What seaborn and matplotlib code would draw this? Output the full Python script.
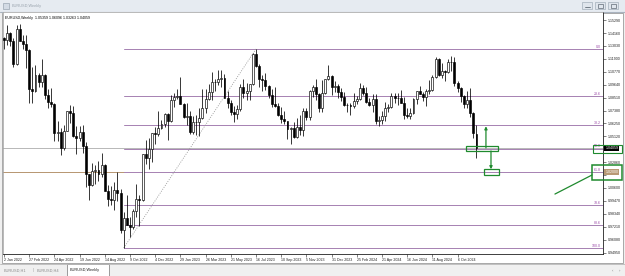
import matplotlib
matplotlib.use("Agg")
import matplotlib.pyplot as plt
import matplotlib.transforms as mtransforms
from matplotlib.patches import Rectangle
import numpy as np
import pandas as pd
import seaborn as sns

# ---------------- data ----------------
opens = [1.1370, 1.1359, 1.1412, 1.1342, 1.1145, 1.1452, 1.1349, 1.1320, 1.1270, 1.0930,
         1.0911, 1.1051, 1.0983, 1.1046, 1.0876, 1.0808, 1.0795, 1.0545, 1.0550, 1.0410,
         1.0560, 1.0733, 1.0719, 1.0518, 1.0495, 1.0553, 1.0427, 1.0183, 1.0082, 1.0212,
         1.0220, 1.0180, 1.0258, 1.0037, 0.9964, 0.9955, 1.0040, 1.0015, 0.9690, 0.9800,
         0.9740, 0.9722, 0.9860, 0.9965, 0.9958, 1.0354, 1.0325, 1.0397, 1.0537, 1.0530,
         1.0585, 1.0620, 1.0705, 1.0645, 1.0830, 1.0855, 1.0868, 1.0795, 1.0678, 1.0694,
         1.0546, 1.0634, 1.0640, 1.0670, 1.0760, 1.0840, 1.0900, 1.0990, 1.0988, 1.1015,
         1.1020, 1.0850, 1.0805, 1.0723, 1.0710, 1.0750, 1.0940, 1.0895, 1.0910, 1.0967,
         1.1228, 1.1125, 1.1017, 1.1005, 1.0948, 1.0870, 1.0795, 1.0775, 1.0700, 1.0660,
         1.0645, 1.0573, 1.0588, 1.0510, 1.0595, 1.0565, 1.0730, 1.0685, 1.0912, 1.0940,
         1.0883, 1.0762, 1.0895, 1.1010, 1.1038, 1.0940, 1.0950, 1.0897, 1.0852, 1.0788,
         1.0784, 1.0777, 1.0820, 1.0838, 1.0938, 1.0890, 1.0808, 1.0790, 1.0836, 1.0642,
         1.0656, 1.0693, 1.0760, 1.0770, 1.0868, 1.0847, 1.0848, 1.0801, 1.0703, 1.0692,
         1.0713, 1.0840, 1.0907, 1.0884, 1.0856, 1.0912, 1.0916, 1.1028, 1.1192, 1.1048,
         1.1085, 1.1075, 1.1163, 1.1164, 1.0975, 1.0936, 1.0866, 1.0798, 1.0834, 1.0719,
         1.05359]
highs = [1.1377, 1.1482, 1.1428, 1.1370, 1.1483, 1.1495, 1.1396, 1.1395, 1.1275, 1.1121,
         1.1137, 1.1070, 1.1185, 1.1054, 1.0924, 1.0936, 1.0805, 1.0642, 1.0586, 1.0607,
         1.0737, 1.0787, 1.0774, 1.0601, 1.0606, 1.0615, 1.0463, 1.0186, 1.0278, 1.0259,
         1.0294, 1.0368, 1.0267, 1.0090, 1.0079, 1.0114, 1.0198, 1.0051, 0.9853, 0.9999,
         0.9810, 0.9876, 1.0094, 1.0000, 1.0360, 1.0480, 1.0497, 1.0545, 1.0595, 1.0737,
         1.0658, 1.0714, 1.0714, 1.0875, 1.0887, 1.0929, 1.1033, 1.0805, 1.0804, 1.0737,
         1.0694, 1.0701, 1.0760, 1.0930, 1.0926, 1.0973, 1.1076, 1.1013, 1.1095, 1.1092,
         1.1055, 1.0906, 1.0828, 1.0779, 1.0787, 1.0971, 1.1012, 1.0976, 1.0970, 1.1245,
         1.1276, 1.1149, 1.1046, 1.1065, 1.0960, 1.0930, 1.0945, 1.0800, 1.0769, 1.0737,
         1.0650, 1.0590, 1.0640, 1.0669, 1.0695, 1.0756, 1.0756, 1.0913, 1.0965, 1.1017,
         1.0895, 1.1009, 1.1012, 1.1140, 1.1046, 1.1000, 1.0970, 1.0932, 1.0896, 1.0807,
         1.0806, 1.0888, 1.0865, 1.0981, 1.0964, 1.0942, 1.0843, 1.0885, 1.0885, 1.0690,
         1.0734, 1.0812, 1.0791, 1.0895, 1.0895, 1.0889, 1.0916, 1.0852, 1.0761, 1.0761,
         1.0845, 1.0910, 1.0948, 1.0900, 1.0926, 1.1008, 1.1047, 1.1202, 1.1200, 1.1155,
         1.1090, 1.1189, 1.1214, 1.1209, 1.0999, 1.0945, 1.0871, 1.0905, 1.0937, 1.0722,
         1.06096]
lows = [1.1272, 1.1315, 1.1300, 1.1121, 1.1134, 1.1342, 1.1280, 1.1106, 1.0805, 1.0806,
        1.0900, 1.0945, 1.0945, 1.0837, 1.0757, 1.0770, 1.0471, 1.0470, 1.0350, 1.0389,
        1.0556, 1.0627, 1.0505, 1.0359, 1.0470, 1.0366, 1.0072, 0.9952, 1.0080, 1.0096,
        1.0123, 1.0159, 1.0033, 0.9900, 0.9910, 0.9864, 0.9944, 0.9668, 0.9535, 0.9736,
        0.9632, 0.9703, 0.9810, 0.9730, 0.9950, 1.0270, 1.0224, 1.0289, 1.0443, 1.0519,
        1.0573, 1.0590, 1.0483, 1.0640, 1.0766, 1.0835, 1.0793, 1.0669, 1.0613, 1.0533,
        1.0532, 1.0524, 1.0516, 1.0661, 1.0713, 1.0830, 1.0831, 1.0911, 1.0963, 1.0940,
        1.0850, 1.0760, 1.0700, 1.0635, 1.0667, 1.0733, 1.0844, 1.0833, 1.0834, 1.0957,
        1.1118, 1.0944, 1.0912, 1.0914, 1.0845, 1.0766, 1.0772, 1.0686, 1.0632, 1.0617,
        1.0488, 1.0448, 1.0495, 1.0496, 1.0522, 1.0516, 1.0656, 1.0656, 1.0852, 1.0828,
        1.0723, 1.0723, 1.0882, 1.1001, 1.0877, 1.0897, 1.0845, 1.0820, 1.0780, 1.0722,
        1.0695, 1.0761, 1.0795, 1.0833, 1.0876, 1.0800, 1.0775, 1.0724, 1.0622, 1.0601,
        1.0624, 1.0650, 1.0724, 1.0763, 1.0804, 1.0788, 1.0800, 1.0668, 1.0672, 1.0665,
        1.0710, 1.0797, 1.0880, 1.0825, 1.0778, 1.0883, 1.0905, 1.1020, 1.1040, 1.1025,
        1.0999, 1.1068, 1.1083, 1.0950, 1.0900, 1.0810, 1.0761, 1.0760, 1.0682, 1.0496,
        1.03263]
closes = [1.1359, 1.1412, 1.1342, 1.1145, 1.1452, 1.1349, 1.1320, 1.1270, 1.0930, 1.0911,
          1.1051, 1.0983, 1.1046, 1.0876, 1.0808, 1.0795, 1.0545, 1.0550, 1.0410, 1.0560,
          1.0733, 1.0719, 1.0518, 1.0495, 1.0553, 1.0427, 1.0183, 1.0082, 1.0212, 1.0220,
          1.0180, 1.0258, 1.0037, 0.9964, 0.9955, 1.0040, 1.0015, 0.9690, 0.9800, 0.9740,
          0.9722, 0.9860, 0.9965, 0.9958, 1.0354, 1.0325, 1.0397, 1.0537, 1.0530, 1.0585,
          1.0620, 1.0705, 1.0645, 1.0830, 1.0855, 1.0868, 1.0795, 1.0678, 1.0694, 1.0546,
          1.0634, 1.0640, 1.0670, 1.0760, 1.0840, 1.0900, 1.0990, 1.0988, 1.1015, 1.1020,
          1.0850, 1.0805, 1.0723, 1.0710, 1.0750, 1.0940, 1.0895, 1.0910, 1.0967, 1.1228,
          1.1125, 1.1017, 1.1005, 1.0948, 1.0870, 1.0795, 1.0775, 1.0700, 1.0660, 1.0645,
          1.0573, 1.0588, 1.0510, 1.0595, 1.0565, 1.0730, 1.0685, 1.0912, 1.0940, 1.0883,
          1.0762, 1.0895, 1.1010, 1.1038, 1.0940, 1.0950, 1.0897, 1.0852, 1.0788, 1.0784,
          1.0777, 1.0820, 1.0838, 1.0938, 1.0890, 1.0808, 1.0790, 1.0836, 1.0642, 1.0656,
          1.0693, 1.0760, 1.0770, 1.0868, 1.0847, 1.0848, 1.0801, 1.0703, 1.0692, 1.0713,
          1.0840, 1.0907, 1.0884, 1.0856, 1.0912, 1.0916, 1.1028, 1.1192, 1.1048, 1.1085,
          1.1075, 1.1163, 1.1164, 1.0975, 1.0936, 1.0866, 1.0798, 1.0834, 1.0719, 1.0540,
          1.04059]

date_tick_idx = [0, 8, 16, 24, 32, 40, 48, 56, 64, 72, 80, 88, 96, 104, 112, 120, 128, 136, 144]
date_tick_labels = ["2 Jan 2022", "27 Feb 2022", "24 Apr 2022", "19 Jun 2022", "14 Aug 2022",
                    "9 Oct 2022", "4 Dec 2022", "29 Jan 2023", "26 Mar 2023", "21 May 2023",
                    "16 Jul 2023", "10 Sep 2023", "5 Nov 2023", "31 Dec 2023", "25 Feb 2024",
                    "21 Apr 2024", "16 Jun 2024", "11 Aug 2024", "6 Oct 2024"]
price_ticks = [0.94950, 0.96080, 0.97210, 0.98340, 0.99470, 1.00600, 1.01730, 1.02860,
               1.03990, 1.05120, 1.06250, 1.07380, 1.08510, 1.09640, 1.10770, 1.11900,
               1.13030, 1.14160, 1.15290]
price_tick_labels = ["0.94950", "0.96080", "0.97210", "0.98340", "0.99470", "1.00600", "",
                     "1.02860", "", "1.05120", "1.06250", "1.07380", "1.08510", "1.09640",
                     "1.10770", "1.11900", "1.13030", "1.14160", "1.15290"]

fib_idx = [38, 80]              # swing low week, swing high week
fib_prices = [0.9535, 1.1276]   # swing low, swing high
fib_levels = [0.0, 23.6, 38.2, 50.0, 61.8, 78.6, 88.6, 100.0]
bid_price = 1.04059
hline_price = 1.02000

# user drawn green annotations (week index, price)
green_box_x = [146.7, 156.8]
green_box_y = [1.0380, 1.0430]
green_small_box_x = [152.4, 157.1]
green_small_box_y = [1.0174, 1.0226]
arrow_up = [153.0, 1.0410, 1.0600]
arrow_down = [154.6, 1.0384, 1.0224]
green_line_x = [174.9, 186.7]
green_line_y = [1.0007, 1.0174]
label_box_bid = [187.0, 196.2, 1.0366, 1.0436]
label_box_h = [186.7, 196.2, 1.0130, 1.0261]

# ---------------- style ----------------
sns.set_theme(style="white")
plt.rcParams["font.family"] = ["Liberation Sans", "DejaVu Sans"]

W, H = 625, 276
fig = plt.figure(figsize=(W / 100, H / 100), dpi=100, facecolor="#f0f0f0")


def fr(x0, y0, x1, y1):
    return [x0 / W, 1 - y1 / H, (x1 - x0) / W, (y1 - y0) / H]


# window chrome
bg = fig.add_axes([0, 0, 1, 1], zorder=-5)
bg.set_xlim(0, W)
bg.set_ylim(H, 0)
bg.axis("off")
bg.add_patch(Rectangle((0, 0), W, 12, fc="#e6ebf1", ec="none"))
bg.plot([0, W], [12, 12], color="#a9b3bf", lw=0.8)
bg.add_patch(Rectangle((2.5, 2.5), 6, 6, fc="#d3dbe5", ec="#9aa6b3", lw=0.5))
bg.text(12, 6.3, "EURUSD,Weekly", fontsize=2.8, color="#9aa3ad", va="center", ha="left")
for bx in [582, 595, 608]:
    bg.add_patch(Rectangle((bx, 2), 10, 7, fc="#dfe5ec", ec="#a4afbb", lw=0.5))
bg.plot([584.5, 589.5], [7, 7], color="#606a75", lw=0.6)
bg.add_patch(Rectangle((597.5, 4), 5, 3.5, fc="none", ec="#606a75", lw=0.5))
bg.add_patch(Rectangle((610.5, 4), 5, 3.5, fc="none", ec="#606a75", lw=0.5))
bg.add_patch(Rectangle((2, 12.5), 620.5, 250.5, fc="white", ec="#9c9c9c", lw=0.6))
# bottom tab bar
bg.plot([0, W], [263.5, 263.5], color="#b8b8b8", lw=0.6)
bg.text(4, 270.5, "EURUSD,H1", fontsize=2.8, color="#8a8a8a", va="center")
bg.text(33, 270.5, "|", fontsize=2.8, color="#9a9a9a", va="center")
bg.text(37, 270.5, "EURUSD,H4", fontsize=2.8, color="#8a8a8a", va="center")
bg.add_patch(Rectangle((66.5, 264), 42, 11.5, fc="white", ec="#8c8c8c", lw=0.6))
bg.text(70, 270.3, "EURUSD,Weekly", fontsize=2.8, color="#222222", va="center")
bg.text(612, 271, "\u2039", fontsize=3.2, color="#777777", va="center")
bg.text(619, 271, "\u203a", fontsize=3.2, color="#777777", va="center")

# main chart axes
ax = fig.add_axes(fr(3, 12, 603, 254))
ax.set_facecolor("white")
xmin, xmax = -0.317, 190.16
ax.set_xlim(xmin, xmax)
ax.set_ylim(0.94825, 1.15998)

df = pd.DataFrame({"o": opens, "h": highs, "l": lows, "c": closes})
df["i"] = np.arange(len(df))
up = df[df.c >= df.o]
dn = df[df.c < df.o]

ax.vlines(df.i, df.l, df.h, color="black", lw=0.55, zorder=3)
bw = 0.62
ax.bar(dn.i, dn.o - dn.c, bottom=dn.c, width=bw, color="black", edgecolor="black",
       linewidth=0.45, zorder=4)
ax.bar(up.i, (up.c - up.o).clip(lower=0.00012), bottom=up.o, width=bw, color="white",
       edgecolor="black", linewidth=0.45, zorder=4)

# horizontal lines across chart
ax.axhline(bid_price, color="#b9b9b9", lw=0.72, zorder=1)
ax.axhline(hline_price, color="#b89874", lw=0.72, zorder=1)

# fibonacci retracement
lo, hi = fib_prices
for lev in fib_levels:
    p = hi - lev / 100 * (hi - lo)
    ax.plot([fib_idx[0], xmax], [p, p], color="#a884b4", lw=0.72, zorder=2)
    ax.text(xmax - 0.6, p + 0.0004, f"{lev:.1f}", fontsize=2.6, color="#9b4aa8",
            ha="right", va="bottom", zorder=5)
fib_df = pd.DataFrame({"x": fib_idx, "y": fib_prices})
sns.lineplot(data=fib_df, x="x", y="y", ax=ax, color="#9a9a9a", lw=0.6,
             linestyle=(0, (1.2, 1.6)), zorder=2)

# chart title text
ax.text(0.004, 0.985, "EURUSD,Weekly  1.05359 1.06096 1.03263 1.04059", transform=ax.transAxes,
        fontsize=2.6, color="black", ha="left", va="top")

# green annotations
g = "#1f8a2e"
ax.add_patch(Rectangle((green_box_x[0], green_box_y[0]), green_box_x[1] - green_box_x[0],
                       green_box_y[1] - green_box_y[0], fc="none", ec=g, lw=0.9, zorder=6))
ax.add_patch(Rectangle((green_small_box_x[0], green_small_box_y[0]),
                       green_small_box_x[1] - green_small_box_x[0],
                       green_small_box_y[1] - green_small_box_y[0], fc="none", ec=g, lw=0.9,
                       zorder=6))
ax.annotate("", xy=(arrow_up[0], arrow_up[2]), xytext=(arrow_up[0], arrow_up[1]),
            arrowprops=dict(arrowstyle="-|>", color=g, lw=0.9, mutation_scale=4,
                            shrinkA=0, shrinkB=0), zorder=6)
ax.annotate("", xy=(arrow_down[0], arrow_down[2]), xytext=(arrow_down[0], arrow_down[1]),
            arrowprops=dict(arrowstyle="-|>", color=g, lw=0.9, mutation_scale=4,
                            shrinkA=0, shrinkB=0), zorder=6)
ax.plot(green_line_x, green_line_y, color=g, lw=0.9, zorder=6, clip_on=False)

# axes / ticks
for s in ["left", "top"]:
    ax.spines[s].set_color("#9c9c9c")
    ax.spines[s].set_linewidth(0.5)
for s in ["right", "bottom"]:
    ax.spines[s].set_color("#202020")
    ax.spines[s].set_linewidth(0.6)
ax.yaxis.tick_right()
ax.set_yticks(price_ticks)
ax.set_yticklabels(price_tick_labels)
ax.set_xticks(date_tick_idx)
ax.set_xticklabels(date_tick_labels, ha="left")
ax.tick_params(axis="y", which="both", right=True, length=2, width=0.4, pad=1.2,
               labelsize=2.6, colors="#202020")
ax.tick_params(axis="x", which="both", bottom=True, length=2, width=0.4, pad=1.0,
               labelsize=2.6, colors="#202020")
ax.set_xlabel("")
ax.set_ylabel("")
ax.grid(False)

# price label boxes on the right scale
tr = mtransforms.blended_transform_factory(ax.transAxes, ax.transData)
ax.text(1.004, bid_price, f"{bid_price:.5f}", transform=tr, fontsize=2.6, color="white",
        ha="left", va="center", zorder=8, clip_on=False,
        bbox=dict(boxstyle="square,pad=0.25", fc="black", ec="none"))
ax.text(1.004, hline_price, f"{hline_price:.5f}", transform=tr, fontsize=2.6, color="white",
        ha="left", va="center", zorder=8, clip_on=False,
        bbox=dict(boxstyle="square,pad=0.25", fc="#b89874", ec="none"))
for bx0, bx1, by0, by1 in [label_box_bid, label_box_h]:
    ax.add_patch(Rectangle((bx0, by0), bx1 - bx0, by1 - by0, fc="none", ec=g,
                           lw=1.1 if by1 - by0 > 0.01 else 0.8, zorder=9, clip_on=False))

fig.savefig("out.png", dpi=100, facecolor=fig.get_facecolor())
